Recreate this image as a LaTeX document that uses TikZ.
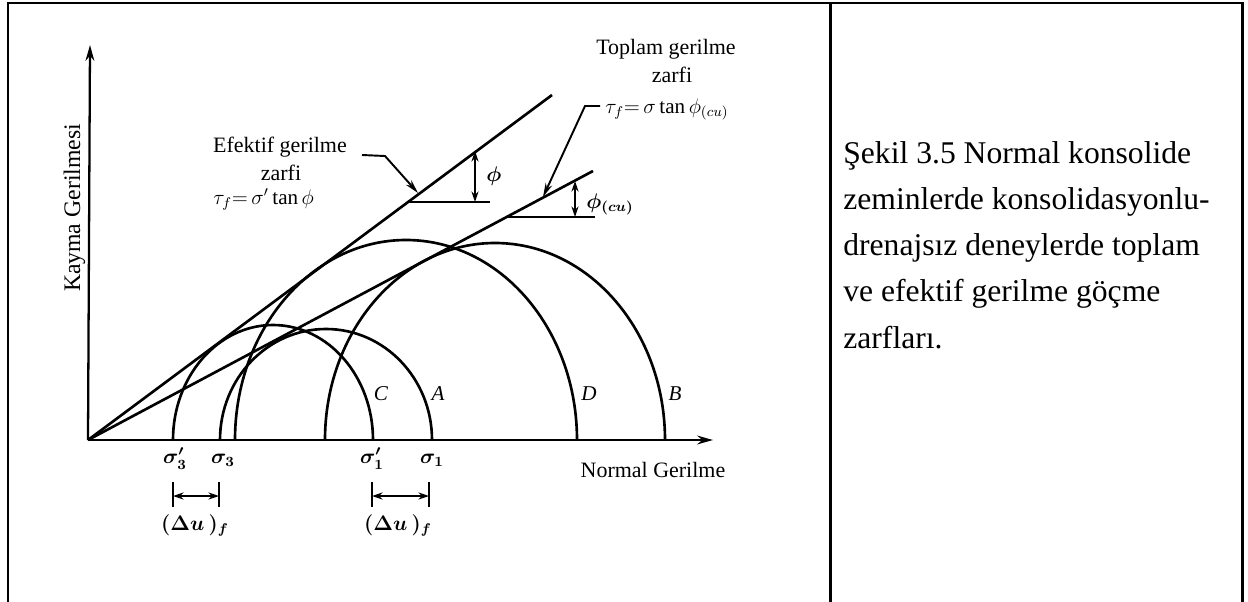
\documentclass[tikz,border=0pt]{standalone}
\usepackage{fontspec}
\setmainfont{Liberation Serif}
\usetikzlibrary{arrows.meta}

\tikzset{
  frame/.style={line width=1.7pt},
  curve/.style={line width=1.5pt},
  thinline/.style={line width=1.1pt},
  axisline/.style={line width=1.3pt,-{Stealth[length=9pt,width=5pt]}},
  lead/.style={line width=1.1pt,-{Stealth[length=8pt,width=4pt]}},
  dimline/.style={line width=1.1pt,{Stealth[length=6pt,width=4pt]}-{Stealth[length=6pt,width=4pt]}},
  txt/.style={font=\fontsize{12.5}{15}\selectfont,inner sep=0pt,anchor=base},
  mth/.style={font=\fontsize{11.5}{14}\selectfont\boldmath,inner sep=0pt,anchor=base},
  eqn/.style={font=\fontsize{12}{14}\selectfont,inner sep=0pt,anchor=base west},
  letter/.style={font=\fontsize{12}{14}\selectfont\itshape,inner sep=0pt,anchor=base},
  captxt/.style={font=\fontsize{18}{26}\selectfont,inner sep=0pt,anchor=base west}
}
% semi-circle of Mohr: left foot, x radius, y radius
\newcommand{\mohr}[3]{\draw[curve] (#1,440) arc[start angle=180,end angle=360,x radius=#2,y radius=#3];}

\begin{document}
\begin{tikzpicture}[x=0.02cm,y=-0.02cm]
  \useasboundingbox (0,0) rectangle (1248,602);

  % table frame
  \draw[frame] (8,602) -- (8,3) -- (1242,3) -- (1242,602);
  \draw[frame] (830,3) -- (830,602);

  % axes
  \coordinate (O) at (88,440);
  \coordinate (Ytop) at (90,45);
  \coordinate (Xend) at (713,440);
  \draw[axisline] (O) -- (Ytop);
  \draw[axisline] (O) -- (Xend);
  \node[txt,font=\fontsize{13.5}{16}\selectfont,rotate=90] (ylab) at (80,208) {Kayma Gerilmesi};
  \node[txt] (xlab) at (653,477) {Normal Gerilme};

  % envelopes
  \coordinate (Eeff) at (552,95);
  \coordinate (Etot) at (593,171);
  \draw[curve] (O) -- (Eeff);
  \draw[curve] (O) -- (Etot);

  % Mohr circles
  \mohr{173}{100}{115} % C
  \mohr{220}{106}{111} % A
  \mohr{235}{171}{200} % D
  \mohr{325}{170}{197} % B
  \node[letter] (C) at (381,400) {C};
  \node[letter] (A) at (438,400) {A};
  \node[letter] (D) at (589,400) {D};
  \node[letter] (B) at (675,400) {B};

  % angle marks
  \coordinate (P1) at (407,202);
  \coordinate (P2) at (490,202);
  \coordinate (Q1) at (475,151);
  \coordinate (Q2) at (475,202);
  \draw[thinline] (P1) -- (P2);
  \draw[dimline] (Q1) -- (Q2);
  \node[mth] (phi) at (494,181) {$\phi$};
  \coordinate (R1) at (506,217);
  \coordinate (R2) at (595,217);
  \coordinate (S1) at (575,181);
  \coordinate (S2) at (575,217);
  \draw[thinline] (R1) -- (R2);
  \draw[dimline] (S1) -- (S2);
  \node[mth,anchor=base west] (phicu) at (586,208) {$\phi_{(cu)}$};

  % envelope labels
  \node[txt] (eff1) at (280,152) {Efektif gerilme};
  \node[txt] (eff2) at (281,180) {zarfi};
  \node[eqn] (eff3) at (213,204) {$\tau_f{=}\,\sigma'\tan\phi$};
  \coordinate (L1) at (362,155);
  \coordinate (L2) at (385,156);
  \coordinate (T1) at (418,193);
  \draw[lead] (L1) -- (L2) -- (T1);

  \node[txt] (tot1) at (666,54) {Toplam gerilme};
  \node[txt] (tot2) at (672,82) {zarfi};
  \node[eqn] (tot3) at (605,113) {$\tau_f{=}\,\sigma\tan\phi_{(cu)}$};
  \coordinate (M1) at (600,106);
  \coordinate (M2) at (585,106);
  \coordinate (T2) at (543,197);
  \draw[lead] (M1) -- (M2) -- (T2);

  % stresses on the axis
  \node[mth] (s3e) at (175,463) {$\sigma'_3$};
  \node[mth] (s3) at (223,463) {$\sigma_3$};
  \node[mth] (s1e) at (372,463) {$\sigma'_1$};
  \node[mth] (s1) at (432,463) {$\sigma_1$};

  % pore pressure
  \draw[thinline] (173,482) -- (173,507);
  \draw[thinline] (219,482) -- (219,507);
  \draw[thinline] (372,482) -- (372,507);
  \draw[thinline] (429,482) -- (429,507);
  \coordinate (U1) at (173,496);
  \coordinate (U2) at (219,496);
  \coordinate (U3) at (372,496);
  \coordinate (U4) at (429,496);
  \draw[dimline] (U1) -- (U2);
  \draw[dimline] (U3) -- (U4);
  \node[mth] (du1) at (195,530) {$(\Delta u\,)_f$};
  \node[mth] (du2) at (398,530) {$(\Delta u\,)_f$};

  % caption
  \foreach \i/\captext in {1/Şekil 3.5 Normal konsolide, 2/zeminlerde konsolidasyonlu-,
      3/drenajsız deneylerde toplam, 4/ve efektif gerilme göçme, 5/zarfları.}
    \node[captxt] (cap\i) at (843,{163+46.25*(\i-1)}) {\captext};
\end{tikzpicture}
\end{document}
